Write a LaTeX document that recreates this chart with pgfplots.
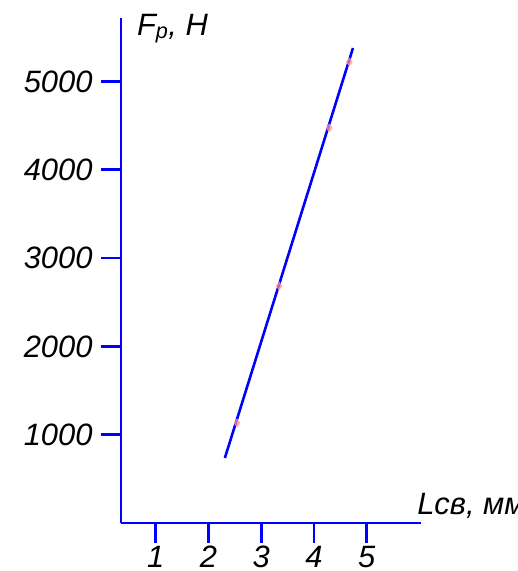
\documentclass[border=0pt]{standalone}
\usepackage{fontspec}
\setmainfont{Liberation Sans}
\usepackage{pgfplots}
\pgfplotsset{compat=1.18}

\begin{document}
\begin{tikzpicture}
% fixed page frame around the axis rectangle
\useasboundingbox (-121bp,-48bp) rectangle (397bp,523bp);
\begin{axis}[
  at={(0,0)}, anchor=south west,
  scale only axis,
  width=300bp, height=505bp,
  xmin=0.34, xmax=6.03,
  ymin=0, ymax=5719,
  axis x line=bottom, axis y line=left,
  axis line style={blue, line width=2.6bp, -},
  every tick/.style={blue, line width=2.6bp},
  tick align=outside,
  major tick length=20bp,
  xtick={1,2,3,4,5},
  ytick={1000,2000,3000,4000,5000},
  minor tick num=0,
  /pgf/number format/assume math mode=true,
  /pgf/number format/1000 sep={},
  ticklabel style={font=\fontsize{31}{34}\selectfont\itshape, text=black},
  yticklabel style={anchor=east, xshift=-5bp},
  xticklabel style={anchor=north, inner sep=0pt, yshift=-3bp},
  clip=false,
]
\addplot[blue, line width=2.6bp] coordinates {(2.31,736) (4.74,5379)};
\addplot[only marks, mark=diamond*, mark size=4bp,
         mark options={draw=red!35, fill=red!45, line width=0.6bp, opacity=0.75}]
  coordinates {(2.54,1132) (3.34,2684) (4.29,4473) (4.67,5221)};
\node[anchor=base west, inner sep=0pt, font=\fontsize{31}{34}\selectfont\itshape]
  at (axis description cs:0.053,0.966) {F\textsubscript{p}, Н};
\node[anchor=base west, inner sep=0pt, font=\fontsize{31}{34}\selectfont\itshape]
  at (axis description cs:0.987,0.016) {Lсв, мм};
\end{axis}
\end{tikzpicture}
\end{document}
